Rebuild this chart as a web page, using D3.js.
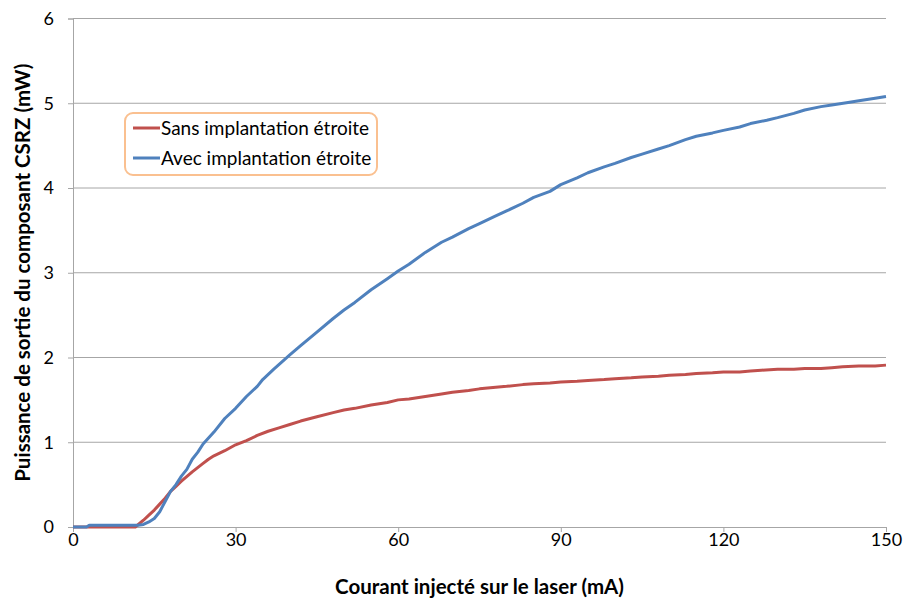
<!DOCTYPE html>
<html>
<head>
<meta charset="utf-8">
<script src="https://cdn.jsdelivr.net/npm/d3@7"></script>
<style>
  body { margin: 0; background: #fff; }
  svg text { font-family: Lato, "Open Sans", sans-serif; }
</style>
</head>
<body>
<div id="chart"></div>
<script>
var xTicks = [0, 30, 60, 90, 120, 150];
var yTicks = [0, 1, 2, 3, 4, 5, 6];

// courant (mA)
var sansX = [0, 5, 10, 11.5, 13, 14, 15, 16, 17, 18, 19, 20, 22, 24, 25, 26, 28, 30, 32, 34, 36, 38, 40, 42, 45, 48, 50, 52, 55, 58, 60, 62, 65, 68, 70, 73, 75, 78, 80, 83, 85, 88, 90, 93, 95, 98, 100, 103, 105, 108, 110, 113, 115, 118, 120, 123, 125, 127, 130, 133, 135, 138, 140, 142, 145, 148, 150];
var sansY = [0, 0, 0, 0, 0.08, 0.14, 0.2, 0.27, 0.34, 0.42, 0.48, 0.54, 0.65, 0.75, 0.8, 0.84, 0.9, 0.97, 1.02, 1.08, 1.13, 1.17, 1.21, 1.25, 1.3, 1.35, 1.38, 1.4, 1.44, 1.47, 1.5, 1.51, 1.54, 1.57, 1.59, 1.61, 1.63, 1.65, 1.66, 1.68, 1.69, 1.7, 1.71, 1.72, 1.73, 1.74, 1.75, 1.76, 1.77, 1.78, 1.79, 1.8, 1.81, 1.82, 1.83, 1.83, 1.84, 1.85, 1.86, 1.86, 1.87, 1.87, 1.88, 1.89, 1.9, 1.9, 1.91];

var avecX = [0, 2.5, 3, 5, 8, 10, 12, 13, 14, 15, 16, 17, 18, 19, 20, 21, 22, 23, 24, 25, 26, 28, 30, 32, 34, 35, 37, 40, 42, 45, 48, 50, 52, 55, 58, 60, 62, 65, 68, 70, 73, 75, 78, 80, 83, 85, 88, 90, 93, 95, 98, 100, 103, 105, 108, 110, 113, 115, 118, 120, 123, 125, 128, 130, 133, 135, 138, 140, 143, 145, 148, 150];
var avecY = [0, 0, 0.02, 0.02, 0.02, 0.02, 0.02, 0.03, 0.06, 0.1, 0.18, 0.3, 0.42, 0.5, 0.6, 0.68, 0.8, 0.88, 0.98, 1.05, 1.12, 1.28, 1.4, 1.54, 1.66, 1.74, 1.86, 2.03, 2.14, 2.3, 2.46, 2.56, 2.65, 2.8, 2.93, 3.02, 3.1, 3.24, 3.36, 3.42, 3.52, 3.58, 3.67, 3.73, 3.82, 3.89, 3.96, 4.04, 4.12, 4.18, 4.25, 4.29, 4.36, 4.4, 4.46, 4.5, 4.57, 4.61, 4.65, 4.68, 4.72, 4.76, 4.8, 4.83, 4.88, 4.92, 4.96, 4.98, 5.01, 5.03, 5.06, 5.08];

var seriesNames = ["Sans implantation \u00e9troite", "Avec implantation \u00e9troite"];
var seriesColors = ["#C0504D", "#4F81BD"];

var W = 903, H = 601;
var margin = { top: 18.5, right: 17, bottom: 74, left: 73 };

var svg = d3.select("#chart").append("svg")
    .attr("width", W)
    .attr("height", H);

var x = d3.scaleLinear().domain([0, 150]).range([margin.left, W - margin.right]);
var y = d3.scaleLinear().domain([0, 6]).range([H - margin.bottom, margin.top]);

// gridlines
svg.append("g")
    .selectAll("line")
    .data(yTicks.slice(1))
    .enter().append("line")
    .attr("x1", x(0))
    .attr("x2", x(150))
    .attr("y1", function(d) { return y(d); })
    .attr("y2", function(d) { return y(d); })
    .attr("stroke", "#a6a6a6")
    .attr("stroke-width", 1);

// y axis
var yAxis = svg.append("g")
    .attr("transform", "translate(" + x(0) + ",0)")
    .call(d3.axisLeft(y).tickValues(yTicks).tickFormat(d3.format("d")).tickSize(5).tickPadding(14));
yAxis.select(".domain").attr("stroke", "#a6a6a6");
yAxis.selectAll(".tick line").attr("stroke", "#a6a6a6");
yAxis.selectAll("text").attr("font-size", 18).attr("fill", "#000");

// x axis
var xAxis = svg.append("g")
    .attr("transform", "translate(0," + y(0) + ")")
    .call(d3.axisBottom(x).tickValues(xTicks).tickFormat(d3.format("d")).tickSize(5).tickPadding(1));
xAxis.select(".domain").attr("stroke", "#a6a6a6");
xAxis.selectAll(".tick line").attr("stroke", "#a6a6a6");
xAxis.selectAll("text").attr("font-size", 18).attr("fill", "#000");

// curves
var line = d3.line()
    .x(function(d) { return x(d[0]); })
    .y(function(d) { return y(d[1]); });

var sansData = d3.zip(sansX, sansY);
var avecData = d3.zip(avecX, avecY);

svg.append("path")
    .datum(sansData)
    .attr("d", line)
    .attr("fill", "none")
    .attr("stroke", seriesColors[0])
    .attr("stroke-width", 3)
    .attr("stroke-linejoin", "round");

svg.append("path")
    .datum(avecData)
    .attr("d", line)
    .attr("fill", "none")
    .attr("stroke", seriesColors[1])
    .attr("stroke-width", 3)
    .attr("stroke-linejoin", "round");

// axis titles
svg.append("text")
    .attr("x", (x(0) + x(150)) / 2)
    .attr("y", 594)
    .attr("text-anchor", "middle")
    .attr("font-size", 20.5)
    .attr("font-weight", "bold")
    .text("Courant inject\u00e9 sur le laser (mA)");

svg.append("text")
    .attr("transform", "translate(30," + ((y(0) + y(6)) / 2) + ") rotate(-90)")
    .attr("text-anchor", "middle")
    .attr("font-size", 20.5)
    .attr("font-weight", "bold")
    .text("Puissance de sortie du composant CSRZ (mW)");

// legend
var legend = svg.append("g").attr("transform", "translate(125,113)");
legend.append("rect")
    .attr("width", 252)
    .attr("height", 62)
    .attr("rx", 8)
    .attr("fill", "#fff")
    .attr("stroke", "#FAC090")
    .attr("stroke-width", 2);

var items = legend.selectAll("g.item")
    .data(seriesNames)
    .enter().append("g")
    .attr("class", "item")
    .attr("transform", function(d, i) { return "translate(0," + (15 + i * 30) + ")"; });
items.append("line")
    .attr("x1", 8)
    .attr("x2", 35)
    .attr("stroke", function(d, i) { return seriesColors[i]; })
    .attr("stroke-width", 3);
items.append("text")
    .attr("x", 36)
    .attr("y", 6.5)
    .attr("font-size", 19)
    .text(function(d) { return d; });
</script>
</body>
</html>
